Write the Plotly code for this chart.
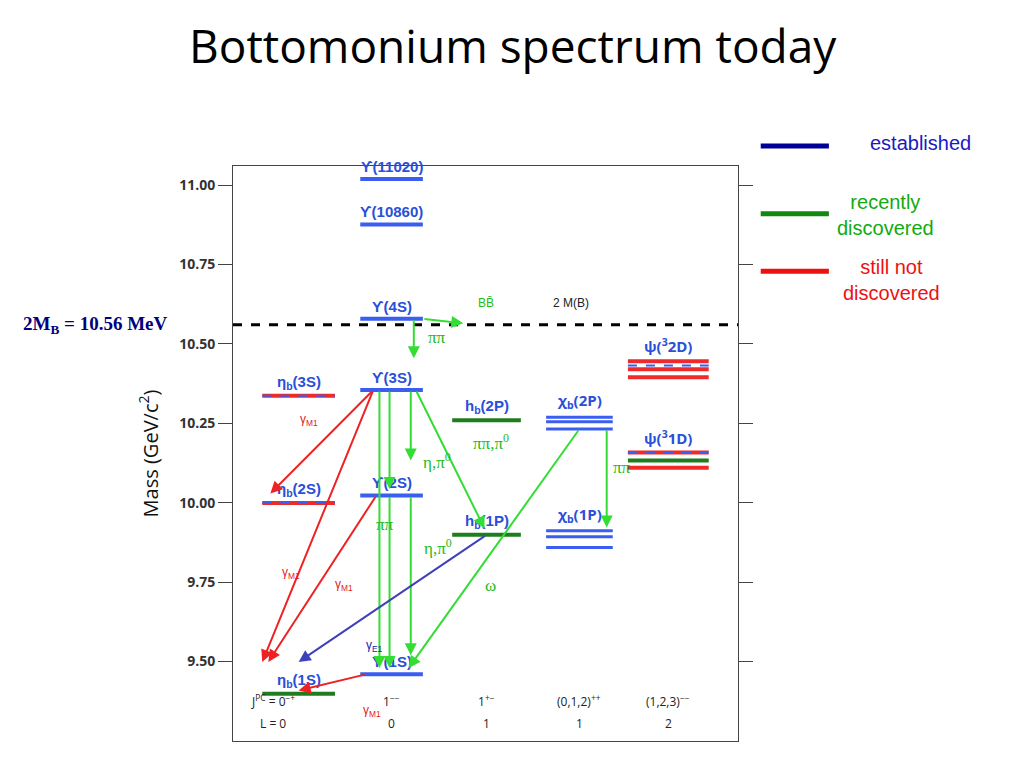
import plotly.graph_objects as go

# ---------------- data ----------------
col_x = [0.65, 1.57, 2.51, 3.43, 4.31]
col_hw = [0.36, 0.31, 0.34, 0.33, 0.40]
jpc_labels = ["J<sup>PC</sup> = 0<sup>−+</sup>", "1<sup>−−</sup>", "1<sup>+−</sup>", "(0,1,2)<sup>++</sup>", "(1,2,3)<sup>−−</sup>"]
l_labels = ["L = 0", "0", "1", "1", "2"]

state_names = ["etab1S", "etab2S", "etab3S", "Y1S", "Y2S", "Y3S", "Y4S", "Y10860", "Y11020", "hb1P", "hb2P"]
state_cols = [0, 0, 0, 1, 1, 1, 1, 1, 1, 2, 2]
state_mass = [9.399, 9.999, 10.337, 9.460, 10.023, 10.355, 10.579, 10.876, 11.019, 9.899, 10.260]
state_status = ["new", "missing", "missing", "est", "est", "est", "est", "est", "est", "new", "new"]
state_labels = ["η<sub>b</sub>(1S)", "η<sub>b</sub>(2S)", "η<sub>b</sub>(3S)", "ϒ(1S)", "ϒ(2S)", "ϒ(3S)", "ϒ(4S)",
                "ϒ(10860)", "ϒ(11020)", "h<sub>b</sub>(1P)", "h<sub>b</sub>(2P)"]
chib1P = [9.859, 9.893, 9.912]
chib2P = [10.232, 10.255, 10.269]
psi3D_mass = [10.395, 10.420, 10.445]
psi3D_status = ["missing", "missing", "missing"]
psi1D_mass = [10.110, 10.133, 10.158]
psi1D_status = ["missing", "new", "missing"]
threshold_2MB = 10.56

transitions = [
    ("Y3S", "etab2S", -0.18, -0.28, 0.03, "red"),
    ("Y3S", "etab1S", -0.18, -0.36, 0.10, "red"),
    ("Y2S", "etab1S", -0.15, -0.30, 0.10, "red"),
    ("Y1S", "etab1S", -0.25, 0.00, 0.01, "red"),
    ("Y3S", "Y2S", -0.02, -0.02, 0.02, "green"),
    ("Y3S", "Y1S", -0.12, -0.12, 0.02, "green"),
    ("Y2S", "Y1S", -0.02, -0.02, 0.02, "green"),
    ("Y3S", "Y2S", 0.19, 0.19, 0.11, "green"),
    ("Y2S", "Y1S", 0.19, 0.19, 0.06, "green"),
    ("Y3S", "hb1P", 0.24, -0.02, 0.02, "green"),
    ("Y4S", "Y3S", 0.22, 0.22, 0.10, "green"),
    ("hb1P", "etab1S", 0.0, -0.0, 0.10, "blue"),
]
labels_text = ["γ<sub>M1</sub>", "γ<sub>M1</sub>", "γ<sub>M1</sub>", "γ<sub>M1</sub>", "γ<sub>E1</sub>",
               "ππ", "η,π<sup>0</sup>", "ππ,π<sup>0</sup>", "ππ", "η,π<sup>0</sup>", "ω", "ππ", "BB̄", "2 M(B)"]
labels_x = [0.75, 0.57, 1.10, 1.38, 1.40, 2.02, 2.02, 2.55, 1.50, 2.03, 2.55, 3.85, 2.50, 3.35]
labels_y = [10.26, 9.78, 9.74, 9.345, 9.55, 10.52, 10.13, 10.19, 9.93, 9.86, 9.74, 10.11, 10.63, 10.63]
labels_kind = ["red", "red", "red", "red", "blue", "green", "green", "green", "green", "green", "green",
               "green", "green", "black"]

C = {"est": "#3a5ef0", "new": "#1e7d1e", "missing": "#ee2a2a",
     "red": "#ee2222", "green": "#33dd33", "blue": "#4040bb", "black": "#222222"}
LBL = {"red": "#e02020", "green": "#22bb22", "blue": "#2020aa", "black": "#222222"}

fig = go.Figure()

def level(col, m, color, width=4, dash=None, hw=None):
    hw = col_hw[col] if hw is None else hw
    fig.add_trace(go.Scatter(x=[col_x[col] - hw, col_x[col] + hw], y=[m, m], mode="lines",
                             line=dict(color=color, width=width, dash=dash), hoverinfo="skip", showlegend=False))

fig.add_trace(go.Scatter(x=[0, 5], y=[threshold_2MB] * 2, mode="lines",
                         line=dict(color="black", width=3, dash="dash"), showlegend=False, hoverinfo="skip"))

LABC = "#2a4fd8"
ann = []
pos = {}
for n, c, m, s, lab in zip(state_names, state_cols, state_mass, state_status, state_labels):
    pos[n] = (col_x[c], m)
    level(c, m, C[s])
    if s == "missing":
        level(c, m, C["est"], width=2, dash="dash")
    ann.append(dict(x=col_x[c], y=m, text="<b>" + lab + "</b>", showarrow=False, yanchor="bottom", yshift=2,
                    font=dict(size=15, color=LABC, family="Liberation Sans")))

pos["chib2P"] = (col_x[3], chib2P[1])
pos["chib1P"] = (col_x[3], chib1P[1])
for m in chib1P:
    level(3, m, C["est"], width=3)
for m in chib2P:
    level(3, m, C["est"], width=3)
for lab, arr in (("χ<sub>b</sub>(1P)", chib1P), ("χ<sub>b</sub>(2P)", chib2P)):
    ann.append(dict(x=col_x[3], y=max(arr), text="<b>" + lab + "</b>", showarrow=False, yanchor="bottom",
                    yshift=3, font=dict(size=15, color=LABC)))
for m, s in zip(psi3D_mass, psi3D_status):
    level(4, m, C[s])
level(4, psi3D_mass[1] + 0.012, C["est"], width=2, dash="dash")
for m, s in zip(psi1D_mass, psi1D_status):
    level(4, m, C[s])
level(4, psi1D_mass[2], C["est"], width=2, dash="dash")
for lab, arr in (("ψ(<sup>3</sup>2D)", psi3D_mass), ("ψ(<sup>3</sup>1D)", psi1D_mass)):
    ann.append(dict(x=col_x[4], y=max(arr), text="<b>" + lab + "</b>", showarrow=False,
                    yanchor="bottom", yshift=3, font=dict(size=15, color=LABC)))

def arrow(x0, y0, x1, y1, color):
    ann.append(dict(x=x1, y=y1, ax=x0, ay=y0, xref="x", yref="y", axref="x", ayref="y", showarrow=True,
                    arrowhead=2, arrowsize=1.2, arrowwidth=2, arrowcolor=color, standoff=0, text=""))

for f, t, fo, to, mo, k in transitions:
    x0, y0 = pos[f]
    x1, y1 = pos[t]
    arrow(x0 + fo, y0, x1 + to, y1 + mo, C[k])
arrow(pos["chib2P"][0] + 0.0, chib2P[0], pos["Y1S"][0] + 0.17, pos["Y1S"][1] + 0.02, C["green"])
arrow(pos["chib2P"][0] + 0.27, chib2P[0], pos["chib1P"][0] + 0.27, max(chib1P) + 0.01, C["green"])
arrow(pos["Y4S"][0] + 0.31, pos["Y4S"][1], 2.28, threshold_2MB + 0.005, C["green"])

for t, x, y, k in zip(labels_text, labels_x, labels_y, labels_kind):
    serif = k == "green" and t != "BB̄"
    ann.append(dict(x=x, y=y, text=t, showarrow=False,
                    font=dict(size=17 if serif else 12, color=LBL[k],
                              family="Liberation Serif" if serif else "Liberation Sans")))

for x, j, l in zip(col_x, jpc_labels, l_labels):
    dx = 0.25 if l.startswith("L") else 0
    ann.append(dict(x=x - dx, y=0.05, yref="paper", text=j, showarrow=False, font=dict(size=12, color="#222")))
    ann.append(dict(x=x - dx, y=0.012, yref="paper", text=l, showarrow=False, font=dict(size=12, color="#222")))

ann.append(dict(x=0.554, y=1.21, xref="paper", yref="paper", xanchor="center", yanchor="middle",
                text="Bottomonium spectrum today", showarrow=False,
                font=dict(size=46, color="black", family="Open Sans")))
ann.append(dict(x=-0.42, y=threshold_2MB, xref="paper", yref="y", xanchor="left",
                text="<b>2M<sub>B</sub> = 10.56 MeV</b>", showarrow=False,
                font=dict(size=19, color="#000080", family="Liberation Serif")))
legend_y = [1.035, 0.917, 0.817]
legend_colors = ["#000099", "#118811", "#ee1111"]
shapes = [dict(type="line", xref="paper", yref="paper", x0=1.045, x1=1.18, y0=yl, y1=yl,
               line=dict(color=lc, width=5)) for yl, lc in zip(legend_y, legend_colors)]
ann.append(dict(x=1.362, y=1.063, xref="paper", yref="paper", text="established", showarrow=False,
                xanchor="center", font=dict(size=20, color="#1a1ac0", family="Liberation Sans")))
ann.append(dict(x=1.293, y=0.96, xref="paper", yref="paper", text="recently<br>discovered", showarrow=False,
                xanchor="center", font=dict(size=20, color="#11aa11", family="Liberation Sans")))
ann.append(dict(x=1.303, y=0.847, xref="paper", yref="paper", text="still not<br>discovered", showarrow=False,
                xanchor="center", font=dict(size=20, color="#ee1111", family="Liberation Sans")))

fig.update_layout(width=1024, height=768, margin=dict(l=225, r=294, t=158, b=35, autoexpand=False),
                  plot_bgcolor="white", paper_bgcolor="white", annotations=ann, shapes=shapes,
                  showlegend=False)
fig.update_xaxes(range=[0, 5], showticklabels=False, showgrid=False, zeroline=False,
                 showline=True, linecolor="#444", mirror=True, ticks="", automargin=False)
fig.update_yaxes(range=[9.25, 11.06], tickvals=[9.5, 9.75, 10.0, 10.25, 10.5, 10.75, 11.0],
                 ticktext=["<b>9.50</b>", "<b>9.75</b>", "<b>10.00</b>", "<b>10.25</b>", "<b>10.50</b>",
                           "<b>10.75</b>", "<b>11.00</b>"],
                 showgrid=False, zeroline=False, showline=True, linecolor="#444", mirror="ticks",
                 ticks="outside", ticklen=14, tickcolor="#444", automargin=False,
                 tickfont=dict(size=14, color="#333"),
                 title=dict(text="Mass (GeV/c<sup>2</sup>)", font=dict(size=20, color="#111")))
fig.write_html("out.html")
